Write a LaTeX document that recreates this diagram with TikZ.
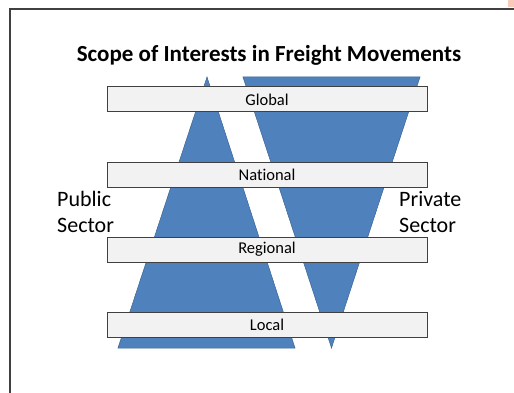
\documentclass[tikz,border=0pt]{standalone}
\usepackage{fontspec}
\setmainfont{Carlito}[Ligatures=NoCommon]
\definecolor{wedgeblue}{HTML}{4F81BD}
\definecolor{wedgeedge}{HTML}{3A6593}
\definecolor{barfill}{HTML}{F2F2F2}
\definecolor{frameline}{HTML}{404040}
\definecolor{tabmark}{HTML}{F8CBB8}
\begin{document}
\begin{tikzpicture}[x=1pt,y=-1pt,
  wedge/.style={fill=wedgeblue,draw=wedgeedge,line width=0.5pt,line join=miter},
  levelbar/.style={fill=barfill,draw=frameline,line width=1pt,minimum width=320pt,minimum height=25pt,inner sep=0pt,
    font=\fontsize{16.5}{19}\selectfont},
  sidelabel/.style={align=left,inner sep=0pt,anchor=west,font=\fontsize{22}{26.5}\selectfont}]
  \useasboundingbox (0,0) rectangle (514,393);
  \fill[white] (0,0) rectangle (514,393);
  % slide edge and corner tab
  \fill[tabmark] (508,0) rectangle (514,7);
  \draw[frameline,line width=1.2pt] (10,393) -- (10,9) -- (514,9);
  % title
  \node[font=\bfseries\fontsize{23}{26}\selectfont,inner sep=0pt] (title) at (269,55) {Scope of Interests in Freight Movements};
  % public sector wedge (widens downward) and private sector wedge (narrows downward)
  \draw[wedge] (207,77) -- (295,348) -- (118,348) -- cycle;
  \draw[wedge] (243,77) -- (420,77) -- (331.5,348) -- cycle;
  % level bars
  \node[levelbar] (global)   at (267,99.5)  {Global};
  \node[levelbar] (national) at (267,175)   {National};
  \node[levelbar] (regional) at (267,249.5) {Regional};
  \node[levelbar] (local)    at (267,324.5) {Local};
  % sector labels
  \node[sidelabel] (public)  at (57,212)  {Public\\Sector};
  \node[sidelabel] (private) at (399,212) {Private\\Sector};
\end{tikzpicture}
\end{document}
